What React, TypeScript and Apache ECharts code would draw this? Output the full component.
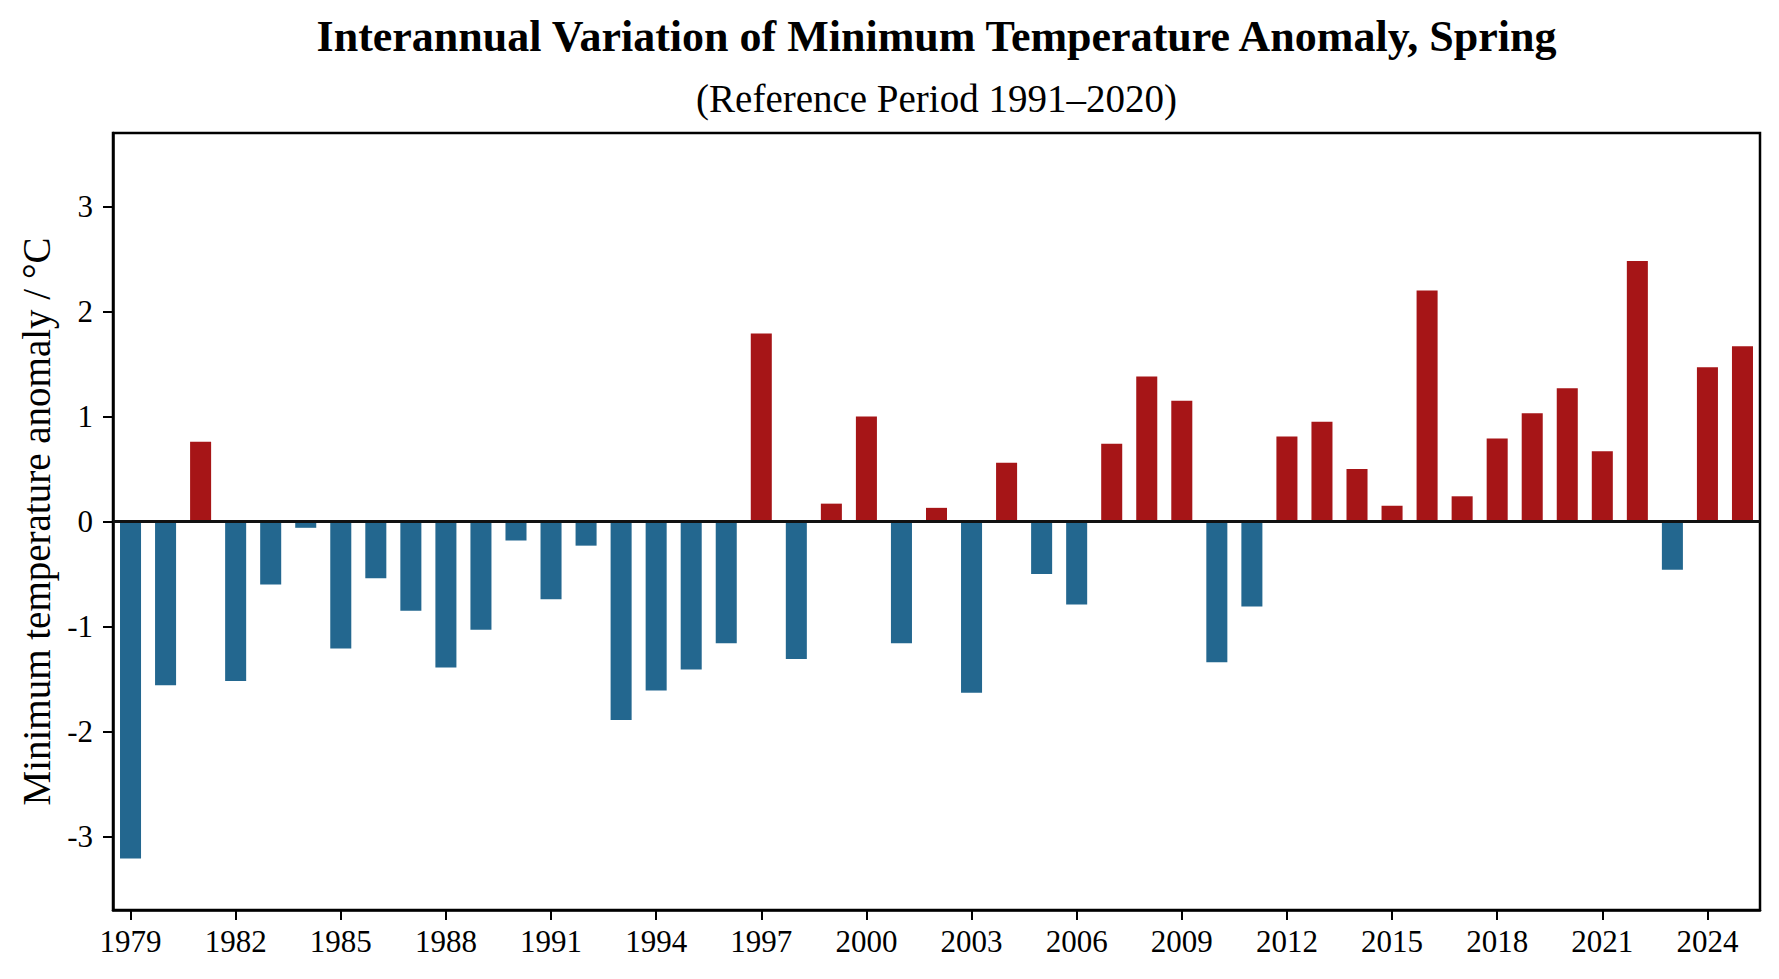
import React, { useEffect, useRef } from "react";
import * as echarts from "echarts";

const years = [
  "1979", "1980", "1981", "1982", "1983", "1984", "1985", "1986", "1987", "1988",
  "1989", "1990", "1991", "1992", "1993", "1994", "1995", "1996", "1997", "1998",
  "1999", "2000", "2001", "2002", "2003", "2004", "2005", "2006", "2007", "2008",
  "2009", "2010", "2011", "2012", "2013", "2014", "2015", "2016", "2017", "2018",
  "2019", "2020", "2021", "2022", "2023", "2024", "2025",
];

const anomalies = [
  -3.21, -1.56, 0.76, -1.52, -0.6, -0.06, -1.21, -0.54, -0.85, -1.39,
  -1.03, -0.18, -0.74, -0.23, -1.89, -1.61, -1.41, -1.16, 1.79, -1.31,
  0.17, 1.0, -1.16, 0.13, -1.63, 0.56, -0.5, -0.79, 0.74, 1.38,
  1.15, -1.34, -0.81, 0.81, 0.95, 0.5, 0.15, 2.2, 0.24, 0.79,
  1.03, 1.27, 0.67, 2.48, -0.46, 1.47, 1.67,
];

const yTickValues = [-3, -2, -1, 0, 1, 2, 3];

const titleText = "Interannual Variation of Minimum Temperature Anomaly, Spring";
const subtitleText = "(Reference Period 1991–2020)";
const yAxisTitle = "Minimum temperature anomaly / °C";

const FONT = '"Liberation Serif", "Times New Roman", "DejaVu Serif", serif';
const WARM = "#a61517";
const COLD = "#23678f";

export default function App() {
  const ref = useRef<HTMLDivElement>(null);

  useEffect(() => {
    if (!ref.current) return;
    const chart = echarts.init(ref.current, undefined, { renderer: "svg" });
    const gridLeft = 113;
    const gridRight = 19;
    const plotCenter = gridLeft + (1779 - gridLeft - gridRight) / 2;

    chart.setOption({
      animation: false,
      backgroundColor: "#ffffff",
      textStyle: { fontFamily: FONT },
      graphic: [
        {
          type: "text",
          x: plotCenter,
          y: 36,
          style: {
            text: titleText,
            font: `bold 44px ${FONT}`,
            fill: "#000",
            textAlign: "center",
            textVerticalAlign: "middle",
          },
        },
        {
          type: "text",
          x: plotCenter,
          y: 98,
          style: {
            text: subtitleText,
            font: `39px ${FONT}`,
            fill: "#000",
            textAlign: "center",
            textVerticalAlign: "middle",
          },
        },
      ],
      grid: {
        left: gridLeft,
        right: gridRight,
        top: 133,
        bottom: 69,
        show: true,
        borderColor: "#000",
        borderWidth: 2.5,
        backgroundColor: "transparent",
      },
      xAxis: {
        type: "category",
        data: years,
        boundaryGap: true,
        axisLine: { show: true, onZero: false, lineStyle: { color: "#000", width: 2.5 } },
        axisTick: {
          show: true,
          alignWithLabel: true,
          length: 10,
          interval: (i: number) => i % 3 === 0,
          lineStyle: { color: "#000", width: 2 },
        },
        axisLabel: {
          interval: (i: number) => i % 3 === 0,
          color: "#000",
          fontFamily: FONT,
          fontSize: 31,
          margin: 16,
        },
        splitLine: { show: false },
      },
      yAxis: {
        type: "value",
        min: -3.7,
        max: 3.7,
        name: yAxisTitle,
        nameLocation: "middle",
        nameGap: 56,
        nameTextStyle: { color: "#000", fontFamily: FONT, fontSize: 39 },
        axisLine: { show: true, lineStyle: { color: "#000", width: 2.5 } },
        axisTick: {
          show: true,
          length: 10,
          customValues: yTickValues,
          lineStyle: { color: "#000", width: 2 },
        },
        axisLabel: {
          customValues: yTickValues,
          color: "#000",
          fontFamily: FONT,
          fontSize: 31,
          margin: 20,
        },
        splitLine: { show: false },
      },
      series: [
        {
          type: "bar",
          barWidth: "60%",
          data: anomalies.map((v) => ({
            value: v,
            itemStyle: { color: v >= 0 ? WARM : COLD },
          })),
          markLine: {
            silent: true,
            symbol: ["none", "none"],
            label: { show: false },
            lineStyle: { color: "#111", width: 3, type: "solid" },
            data: [{ yAxis: 0 }],
          },
        },
      ],
    });

    return () => chart.dispose();
  }, []);

  return (
    <div
      ref={ref}
      style={{ position: "absolute", left: 0, top: 0, width: 1779, height: 979 }}
    />
  );
}
